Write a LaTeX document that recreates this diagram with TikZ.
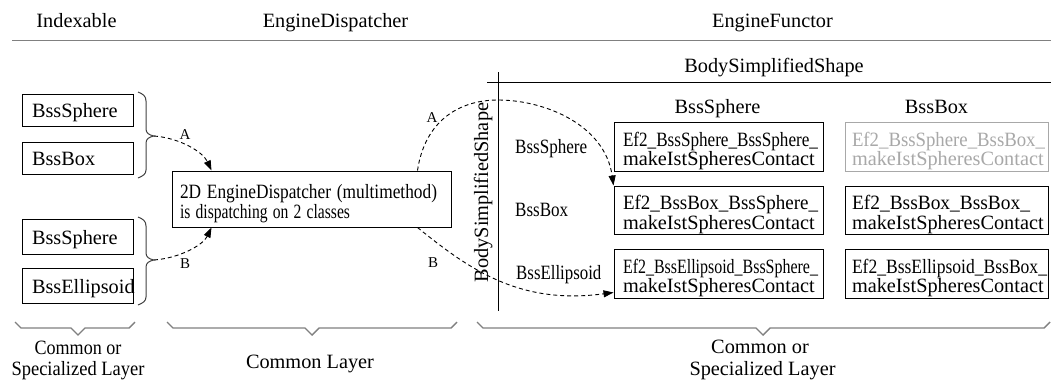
\documentclass[tikz,border=0pt]{standalone}
\usepackage{fontspec}
\setmainfont{Liberation Serif}
\usepackage{graphicx}
\usetikzlibrary{arrows.meta,calc}
\newcommand\fitw[2]{\resizebox{#1pt}{\height}{#2}}
\newcommand\hsc[2]{\scalebox{#1}[1]{#2}}
\definecolor{rulegray}{HTML}{808080}
\definecolor{fadegray}{HTML}{A8A8A8}
\definecolor{bracegray}{HTML}{404040}
\begin{document}
\begin{tikzpicture}[x=1pt,y=-1pt,
  every node/.style={font=\fontsize{20.3}{19.5}\selectfont, inner sep=0pt},
  txt/.style={anchor=base},
  box/.style={draw, line width=1pt, rectangle},
  lbox/.style={box, minimum width=111pt, inner xsep=10pt, inner ysep=0pt, text width=91pt, align=left, text height=15pt, text depth=0pt},
  fbox/.style={box, minimum height=49pt, inner ysep=0pt, align=left, text height=10pt, text depth=11pt},
  fcolone/.style={fbox, minimum width=209pt, inner xsep=9pt, text width=191pt},
  fcoltwo/.style={fbox, minimum width=203pt, inner xsep=7pt, text width=189pt},
  faded/.style={draw=fadegray, text=fadegray},
  darr/.style={dash pattern=on 4pt off 3pt, line width=0.9pt, -{Triangle[length=10pt,width=7pt]}},
  ablbl/.style={font=\fontsize{15}{18}\selectfont},
  bbrace/.style={draw=rulegray, line width=1.4pt},
  lbrace/.style={draw=bracegray, line width=1pt}
]
\useasboundingbox (0,0) rectangle (1051,381);

% headers
\node[txt] (hIdx) at (76.5,27) {Indexable};
\node[txt] (hDisp) at (335.5,27) {EngineDispatcher};
\node[txt] (hFunc) at (772.5,27) {EngineFunctor};
\draw[rulegray, line width=1.5pt] (12,40.5) -- (1051,40.5);

% left boxes
\node[lbox, minimum height=32pt] (l1) at (77.5,110) {BssSphere};
\node[lbox, minimum height=32pt] (l2) at (77.5,158) {BssBox};
\node[lbox, minimum height=35pt] (l3) at (77.5,236.5) {BssSphere};
\node[lbox, minimum height=35pt] (l4) at (77.5,285.5) {BssEllipsoid};

% left braces
\draw[lbrace] (138,92) .. controls (143,94) and (146,96) .. (146,101) -- (146,129)
  .. controls (146,133) and (149,135) .. (154,136)
  .. controls (149,137) and (146,139) .. (146,143) -- (146,170)
  .. controls (146,174) and (143,176) .. (138,178);
\coordinate (tipA) at (154,136);
\draw[lbrace] (138,217) .. controls (143,219) and (146,221) .. (146,226) -- (146,253)
  .. controls (146,257) and (149,259) .. (154,260)
  .. controls (149,261) and (146,263) .. (146,267) -- (146,297)
  .. controls (146,301) and (143,303) .. (138,305);
\coordinate (tipB) at (154,260);

% dispatcher
\node[box, minimum width=279pt, minimum height=56pt, inner xsep=8pt, inner ysep=0pt,
      text width=263pt, align=left, text height=10pt, text depth=12pt,
      font=\fontsize{20.3}{20}\selectfont] (disp) at (311.5,199)
  {\fitw{257}{2D EngineDispatcher (multimethod)}\\\fitw{170}{is dispatching on 2 classes}};

\draw[darr] (tipA) .. controls (180,138) and (203,152) .. ($(disp.north west)+(40,0)$);
\draw[darr] (tipB) .. controls (180,258) and (203,245) .. ($(disp.south west)+(40,0)$);
\node[ablbl] (lA1) at (185,135) {A};
\node[ablbl] (lB1) at (185,264) {B};

% functor table
\draw[line width=1pt] (498,72) -- (498,311);
\draw[line width=1pt] (487,82) -- (1051,82);
\node[txt] (hBSS) at (774,72) {BodySimplifiedShape};
\node[txt, rotate=90] (vBSS) at (488,192.5) {BodySimplifiedShape};
\node[txt] (cS) at (717.5,113) {BssSphere};
\node[txt] (cB) at (936.5,113) {BssBox};
\node[txt, anchor=base west] (rS) at (515,153) {\hsc{0.84}{BssSphere}};
\node[txt, anchor=base west] (rB) at (515,216) {\hsc{0.84}{BssBox}};
\node[txt, anchor=base west] (rE) at (516,279) {\hsc{0.83}{BssEllipsoid}};

\node[fcolone] (f11) at (718.5,146.5) {\fitw{195}{Ef2\_BssSphere\_BssSphere\_}\\makeIstSpheresContact};
\node[fcoltwo, faded] (f12) at (946.5,146.5) {\fitw{193}{Ef2\_BssSphere\_BssBox\_}\\makeIstSpheresContact};
\node[fcolone, minimum height=48pt] (f21) at (718.5,210) {\fitw{195}{Ef2\_BssBox\_BssSphere\_}\\makeIstSpheresContact};
\node[fcoltwo, minimum height=48pt] (f22) at (946.5,210) {\fitw{178}{Ef2\_BssBox\_BssBox\_}\\makeIstSpheresContact};
\node[fcolone] (f31) at (718.5,273.5) {\fitw{195}{Ef2\_BssEllipsoid\_BssSphere\_}\\makeIstSpheresContact};
\node[fcoltwo] (f32) at (946.5,273.5) {\fitw{195}{Ef2\_BssEllipsoid\_BssBox\_}\\makeIstSpheresContact};

\coordinate (dA) at ($(disp.north east)+(-34,0)$);
\coordinate (dB) at ($(disp.south east)+(-34,0)$);
\draw[darr] (dA) .. controls (425,120) and (460,100) .. (498,100)
  .. controls (545,100) and (605,125) .. (f21.north west);
\draw[darr] (dB) .. controls (470,270) and (520,305) .. ($(f31.south west)+(0,-6)$);
\node[ablbl] (lA2) at (432,118) {A};
\node[ablbl] (lB2) at (433,263) {B};

% bottom braces
\draw[bbrace] (15,322) -- (21,328) -- (71,328) -- (78,335) -- (85,328) -- (129,328) -- (135,322);
\draw[bbrace] (167,322) -- (173,328) -- (305,328) -- (312,335) -- (319,328) -- (451,328) -- (457,322);
\draw[bbrace] (477,322) -- (483,328) -- (756,328) -- (763,335) -- (770,328) -- (1044,328) -- (1050,322);
\node[txt] (bl1) at (78,354) {\hsc{0.89}{Common or}};
\node[txt] (bl2) at (78,375) {\hsc{0.91}{Specialized Layer}};
\node[txt] (bm) at (310,368) {Common Layer};
\node[txt] (br1) at (760,353) {Common or};
\node[txt] (br2) at (762.5,375) {Specialized Layer};
\end{tikzpicture}
\end{document}
